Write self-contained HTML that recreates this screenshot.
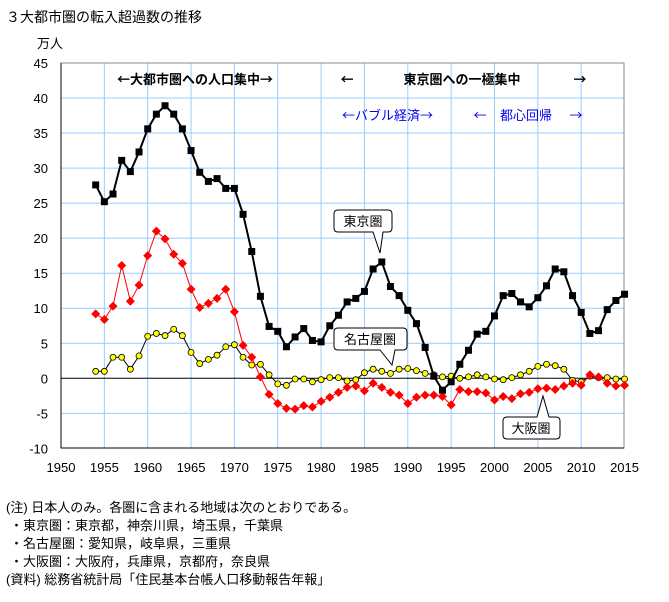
<!DOCTYPE html>
<html><head><meta charset="utf-8">
<style>
html,body{margin:0;padding:0;background:#fff;}
body{width:669px;height:597px;overflow:hidden;font-family:"Liberation Sans","Noto Sans CJK JP",sans-serif;}
svg text{font-family:"Liberation Sans","Noto Sans CJK JP",sans-serif;}
svg text.j{font-family:"Noto Sans CJK JP",sans-serif;}
</style></head><body>
<svg id="c" width="669" height="597" xmlns="http://www.w3.org/2000/svg">
<text x="6" y="22" font-size="14" fill="#000" class="j">３大都市圏の転入超過数の推移</text>
<g id="grid"></g>
<rect x="61" y="63" width="563" height="385" fill="none" stroke="#888" stroke-width="1"/>
<line x1="61" y1="378.3" x2="624" y2="378.3" stroke="#000" stroke-width="1"/>
<line x1="61" y1="63" x2="61" y2="448" stroke="#000" stroke-width="1"/>
<line x1="61" y1="448" x2="624" y2="448" stroke="#000" stroke-width="1"/>
<g id="ylab" font-size="13" text-anchor="end"></g>
<g id="xlab" font-size="13" text-anchor="middle"></g>
<text x="37" y="48" font-size="13" class="j">万人</text>
<g font-size="13" font-weight="bold">
<text class="j" x="195" y="84" text-anchor="middle">←大都市圏への人口集中→</text>
<text class="j" x="347" y="84" text-anchor="middle">←</text>
<text class="j" x="462" y="84" text-anchor="middle">東京圏への一極集中</text>
<text class="j" x="580" y="84" text-anchor="middle">→</text>
</g>
<g font-size="13" fill="#0000ee">
<text class="j" x="342" y="120">←バブル経済→</text>
<text class="j" x="480" y="120" text-anchor="middle">←</text>
<text class="j" x="500" y="120">都心回帰</text>
<text class="j" x="576" y="120" text-anchor="middle">→</text>
</g>
<g id="series"></g>
<g font-size="13" fill="#000" stroke="#000">
<path d="M338,210 H388 Q392,210 392,214 V228 Q392,232 388,232 H383 L380,253 L373,232 H338 Q334,232 334,228 V214 Q334,210 338,210 Z" fill="#fff" stroke-width="1"/>
<text class="j" x="363" y="226" text-anchor="middle" stroke="none">東京圏</text>
<path d="M338,328 H403 Q407,328 407,332 V346 Q407,350 403,350 H395 L392,365 L380,350 H338 Q334,350 334,346 V332 Q334,328 338,328 Z" fill="#fff" stroke-width="1"/>
<text class="j" x="370" y="344" text-anchor="middle" stroke="none">名古屋圏</text>
<path d="M507,417 H537 L543,396 L549,417 H556 Q560,417 560,421 V435 Q560,439 556,439 H507 Q503,439 503,435 V421 Q503,417 507,417 Z" fill="#fff" stroke-width="1"/>
<text class="j" x="531" y="433" text-anchor="middle" stroke="none">大阪圏</text>
</g>
<g font-size="13">
<text x="6" y="512">(注) 日本人のみ。各圏に含まれる地域は次のとおりである。</text>
<text x="10" y="530">・東京圏：東京都，神奈川県，埼玉県，千葉県</text>
<text x="10" y="548">・名古屋圏：愛知県，岐阜県，三重県</text>
<text x="10" y="566">・大阪圏：大阪府，兵庫県，京都府，奈良県</text>
<text x="6" y="584">(資料) 総務省統計局「住民基本台帳人口移動報告年報」</text>
</g>
</svg>
<script>
var NS="http://www.w3.org/2000/svg";
function X(y){return 61+(y-1950)*8.67;}
function Y(v){return 378.3-v*7.007;}
function el(t,a,p){var e=document.createElementNS(NS,t);for(var k in a)e.setAttribute(k,a[k]);p.appendChild(e);return e;}
var g=document.getElementById('grid');
for(var yr=1955;yr<2015;yr+=5)el('line',{x1:X(yr),y1:63,x2:X(yr),y2:448,stroke:'#99ccff','stroke-width':1},g);
for(var v=-5;v<45;v+=5){if(v!=0)el('line',{x1:61,y1:Y(v),x2:624,y2:Y(v),stroke:'#99ccff','stroke-width':1},g);}
var yl=document.getElementById('ylab');
for(var v=-10;v<=45;v+=5){var t=el('text',{x:48,y:Y(v)+5},yl);t.textContent=v;}
var xl=document.getElementById('xlab');
for(var yr=1950;yr<=2015;yr+=5){var t=el('text',{x:X(yr),y:472},xl);t.textContent=yr;}
var tok=[27.6,25.2,26.3,31.1,29.5,32.3,35.6,37.7,38.9,37.7,35.6,32.5,29.4,28.1,28.5,27.1,27.1,23.4,18.1,11.7,7.4,6.7,4.5,5.9,7.1,5.4,5.2,7.5,9.0,10.9,11.4,12.4,15.6,16.6,13.1,11.8,9.7,7.8,4.4,0.3,-1.7,-0.5,2.0,4.0,6.3,6.7,8.9,11.8,12.1,10.9,10.2,11.5,13.2,15.6,15.2,11.8,9.4,6.4,6.8,9.8,11.1,12.0];
var osa=[9.2,8.4,10.3,16.1,11.0,13.3,17.5,21.0,19.9,17.7,16.4,12.7,10.1,10.7,11.4,12.7,9.5,4.7,3.0,0.2,-2.3,-3.6,-4.3,-4.4,-3.9,-4.1,-3.3,-2.7,-2.0,-1.3,-1.1,-1.8,-0.7,-1.3,-2.0,-2.4,-3.6,-2.7,-2.4,-2.4,-2.6,-3.8,-1.6,-1.9,-1.9,-2.1,-3.1,-2.6,-2.9,-2.2,-2.0,-1.5,-1.4,-1.6,-1.1,-0.7,-1.0,0.5,0.2,-0.7,-1.1,-1.0];
var nag=[1.0,1.0,3.0,3.0,1.3,3.2,6.0,6.4,6.1,7.0,6.1,3.7,2.1,2.7,3.3,4.5,4.8,3.0,1.9,2.0,0.5,-0.8,-1.0,-0.1,-0.1,-0.5,-0.2,0.1,0.1,-0.4,-0.2,0.8,1.3,1.0,0.7,1.3,1.4,1.1,0.7,0.5,0.2,0.3,0,0.2,0.5,0.2,-0.1,-0.2,0.1,0.5,1.0,1.7,2.0,1.8,1.3,-0.3,-0.5,0.3,0.1,0.1,-0.1,-0.1];
var s=document.getElementById('series');
function pts(d){return d.map(function(v,i){return X(1954+i).toFixed(1)+','+Y(v).toFixed(1);}).join(' ');}
el('polyline',{points:pts(nag),fill:'none',stroke:'#000','stroke-width':1},s);
nag.forEach(function(v,i){el('circle',{cx:X(1954+i),cy:Y(v),r:3,fill:'#ffff00',stroke:'#000','stroke-width':0.8},s);});
el('polyline',{points:pts(osa),fill:'none',stroke:'#ff0000','stroke-width':1},s);
osa.forEach(function(v,i){var x=X(1954+i),y=Y(v);el('polygon',{points:x+','+(y-4.5)+' '+(x+4.5)+','+y+' '+x+','+(y+4.5)+' '+(x-4.5)+','+y,fill:'#ff0000'},s);});
el('polyline',{points:pts(tok),fill:'none',stroke:'#000','stroke-width':2},s);
tok.forEach(function(v,i){el('rect',{x:X(1954+i)-3.5,y:Y(v)-3.5,width:7,height:7,fill:'#000'},s);});
</script>
</body></html>
